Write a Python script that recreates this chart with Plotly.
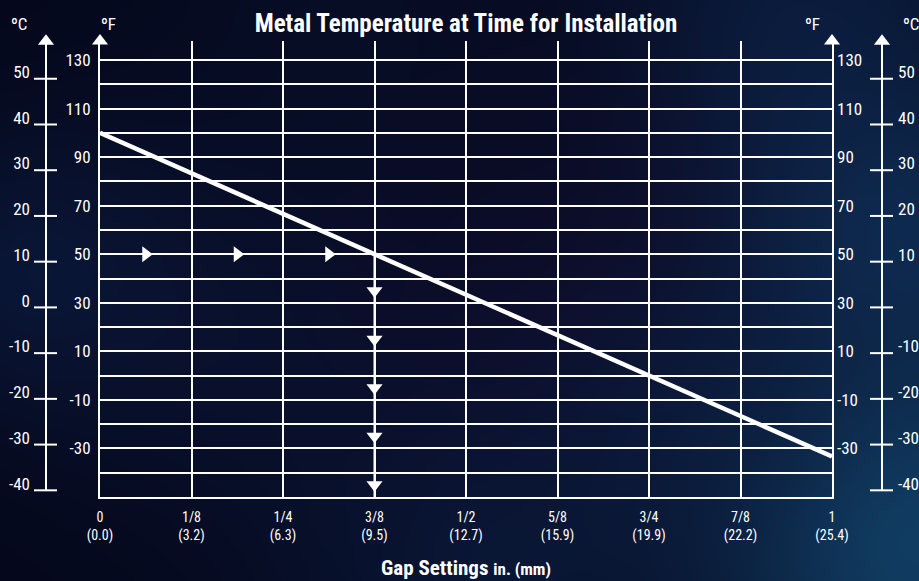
import base64
import struct
import zlib

import numpy as np
import plotly.graph_objects as go

# ---------------- data ----------------
gap_in = [0, 1]                      # gap setting (inches)
temp_f = [100, -33.3]                # metal temperature (°F)

x_tick_vals = [0, 0.125, 0.25, 0.375, 0.5, 0.625, 0.75, 0.875, 1]
x_tick_in = ["0", "1/8", "1/4", "3/8", "1/2", "5/8", "3/4", "7/8", "1"]
x_tick_mm = ["0.0", "3.2", "6.3", "9.5", "12.7", "15.9", "19.9", "22.2", "25.4"]

f_grid = list(range(-50, 131, 10))
f_labels = [130, 110, 90, 70, 50, 30, 10, -10, -30]

c_ticks = [50, 40, 30, 20, 10, 0, -10, -20, -30, -40]
c_labels_left = ["50", "40", "30", "20", "10", "0", "-10", "-20", "-30", "-40"]
c_labels_right = ["50", "40", "30", "20", "10", "", "-10", "-20", "-30", "-40"]

example_x = [1 / 16, 3 / 16, 5 / 16]
example_f = [50, 50, 50]
drop_x = [0.375, 0.375]
drop_f = [50, -50]
drop_arrow_f = [35, 15, -5, -25, -45]

# ---------------- layout constants ----------------
W, H = 919, 581
PX_L, PX_R = 100, 832            # plot area x pixels
PX_BOT = 497                     # y pixel of -50 °F
PX_TOP = 41                      # y pixel of the axis arrow heads
F_MIN = -50
F_PX = 437 / 180                 # pixels per °F
F_MAX = F_MIN + (PX_BOT - PX_TOP) / F_PX
y_dom = [(H - PX_BOT) / H, (H - PX_TOP) / H]
C_PX = 4.573
C0_PX = 307.4
C_MIN = (C0_PX - PX_BOT) / C_PX
C_MAX = (C0_PX - PX_TOP) / C_PX
C_AXIS_L, C_AXIS_R = 46, 882
F_ARROW = F_MAX - 0.05
C_ARROW = C_MAX - 0.03
C_LABEL_SHIFT = 5 / C_PX

FONT = "Liberation Sans Narrow, Arial Narrow, Roboto Condensed, Roboto, sans-serif"
WHITE = "#ffffff"


# ---------------- background image (soft nebula gradient) ----------------
def make_png(arr):
    h, w, _ = arr.shape
    raw = b"".join(b"\x00" + arr[i].tobytes() for i in range(h))

    def chunk(tag, data):
        c = struct.pack(">I", len(data)) + tag + data
        return c + struct.pack(">I", zlib.crc32(tag + data) & 0xFFFFFFFF)

    png = b"\x89PNG\r\n\x1a\n"
    png += chunk(b"IHDR", struct.pack(">IIBBBBB", w, h, 8, 2, 0, 0, 0))
    png += chunk(b"IDAT", zlib.compress(raw, 9))
    png += chunk(b"IEND", b"")
    return "data:image/png;base64," + base64.b64encode(png).decode()


gw, gh = 230, 146
yy, xx = np.mgrid[0:gh, 0:gw].astype(float)
xx *= W / gw
yy *= H / gh
img = np.zeros((gh, gw, 3)) + np.array([5, 8, 28], float)
blobs = [
    (905, 530, 210, (18, 66, 104), 0.95),
    (880, 230, 170, (16, 52, 92), 0.8),
    (800, 30, 190, (14, 40, 80), 0.6),
    (30, 270, 140, (12, 30, 68), 0.6),
    (230, 330, 200, (14, 28, 66), 0.4),
    (560, 300, 220, (20, 12, 46), 0.55),
    (480, 570, 200, (12, 34, 72), 0.5),
    (350, 10, 200, (10, 22, 52), 0.35),
    (700, 420, 160, (12, 34, 70), 0.45),
]
for cx, cy, r, col, s in blobs:
    wgt = s * np.exp(-(((xx - cx) ** 2 + (yy - cy) ** 2) / r ** 2))
    img = img * (1 - wgt[..., None]) + np.array(col, float) * wgt[..., None]
bg_uri = make_png(np.clip(img, 0, 255).astype(np.uint8))

# ---------------- figure ----------------
fig = go.Figure()

# main temperature line
fig.add_trace(go.Scatter(
    x=gap_in, y=temp_f, mode="lines",
    line=dict(color=WHITE, width=4.5), hoverinfo="skip", showlegend=False))

# example arrows along 50 °F
fig.add_trace(go.Scatter(
    x=example_x, y=example_f, mode="markers",
    marker=dict(symbol="triangle-right", size=14, color=WHITE, line_width=0),
    hoverinfo="skip", showlegend=False))

# drop line at 3/8"
fig.add_trace(go.Scatter(
    x=drop_x, y=drop_f, mode="lines",
    line=dict(color=WHITE, width=2), hoverinfo="skip", showlegend=False))
fig.add_trace(go.Scatter(
    x=[drop_x[0]] * len(drop_arrow_f), y=drop_arrow_f, mode="markers",
    marker=dict(symbol="triangle-down", size=14, color=WHITE, line_width=0),
    cliponaxis=False, hoverinfo="skip", showlegend=False))

# °F axis arrows at the top of both borders
fig.add_trace(go.Scatter(
    x=[0, 1], y=[F_ARROW, F_ARROW], mode="markers",
    marker=dict(symbol="triangle-up", size=14, color=WHITE, line_width=0),
    cliponaxis=False, hoverinfo="skip", showlegend=False))

# invisible trace to hold right °F axis
fig.add_trace(go.Scatter(
    x=gap_in, y=temp_f, yaxis="y2", mode="lines",
    line=dict(width=0), opacity=0, hoverinfo="skip", showlegend=False))

# Celsius axes (left and right) on an overlay subplot (x2 = pixel-like x, y3 = °C)
for ax_x, labels, side in [(C_AXIS_L, c_labels_left, "left"),
                           (C_AXIS_R, c_labels_right, "right")]:
    fig.add_trace(go.Scatter(
        x=[ax_x, ax_x], y=[c_ticks[-1], C_MAX], xaxis="x2", yaxis="y3",
        mode="lines", line=dict(color=WHITE, width=2),
        hoverinfo="skip", showlegend=False))
    fig.add_trace(go.Scatter(
        x=[ax_x], y=[C_ARROW], xaxis="x2", yaxis="y3", mode="markers",
        marker=dict(symbol="triangle-up", size=14, color=WHITE, line_width=0),
        cliponaxis=False, hoverinfo="skip", showlegend=False))
    tx, ty = [], []
    for c in c_ticks:
        tx += [ax_x - 12, ax_x + 11, None]
        ty += [c, c, None]
    fig.add_trace(go.Scatter(
        x=tx, y=ty, xaxis="x2", yaxis="y3", mode="lines",
        line=dict(color=WHITE, width=2), hoverinfo="skip", showlegend=False))
    if side == "left":
        lx, pos = [ax_x - 16] * len(c_ticks), "middle left"
    else:
        lx, pos = [ax_x + 16] * len(c_ticks), "middle right"
    fig.add_trace(go.Scatter(
        x=lx, y=[c + C_LABEL_SHIFT for c in c_ticks], xaxis="x2", yaxis="y3",
        mode="text", text=labels, textposition=pos,
        textfont=dict(family=FONT, size=17, color=WHITE),
        cliponaxis=False, hoverinfo="skip", showlegend=False))

fig.update_layout(
    width=W, height=H, autosize=False,
    margin=dict(l=0, r=0, t=0, b=0, pad=0),
    paper_bgcolor="#070b22", plot_bgcolor="rgba(0,0,0,0)",
    font=dict(family=FONT, color=WHITE),
    images=[dict(source=bg_uri, xref="paper", yref="paper", x=0, y=1,
                 sizex=1, sizey=1, sizing="stretch", layer="below",
                 xanchor="left", yanchor="top")],
    title=dict(text="<b>Metal Temperature at Time for Installation</b>",
               x=(466) / W, xanchor="center", y=1 - 23 / H, yanchor="middle",
               font=dict(family=FONT, size=25, color=WHITE)),
    xaxis=dict(
        domain=[PX_L / W, PX_R / W], range=[0, 1], anchor="y",
        tickvals=x_tick_vals,
        ticktext=[f"{a}<br>({b})" for a, b in zip(x_tick_in, x_tick_mm)],
        tickfont=dict(family=FONT, size=14, color=WHITE),
        showgrid=True, gridcolor=WHITE, gridwidth=1.6,
        showline=True, linecolor=WHITE, linewidth=2, mirror=False,
        zeroline=False, ticks="", ticklabelstandoff=6, automargin=False,
        title=dict(text="<b>Gap Settings</b> <b><span style='font-size:17px'>in. (mm)</span></b>",
                   font=dict(family=FONT, size=21, color=WHITE), standoff=17),
        fixedrange=True,
    ),
    yaxis=dict(
        domain=y_dom, range=[F_MIN, F_MAX], anchor="x",
        tickvals=f_grid,
        ticktext=[str(v) if v in f_labels else "" for v in f_grid],
        tickfont=dict(family=FONT, size=17, color=WHITE),
        showgrid=True, gridcolor=WHITE, gridwidth=2,
        showline=True, linecolor=WHITE, linewidth=2, mirror=True,
        zeroline=False, ticks="", ticklabelstandoff=4, fixedrange=True,
        automargin=False,
    ),
    yaxis2=dict(
        overlaying="y", side="right", anchor="x",
        range=[F_MIN, F_MAX], tickvals=f_labels,
        ticktext=[str(v) for v in f_labels],
        tickfont=dict(family=FONT, size=17, color=WHITE),
        showgrid=False, showline=False, zeroline=False, ticks="",
        ticklabelstandoff=4, fixedrange=True, automargin=False,
    ),
    xaxis2=dict(domain=[0, 1], range=[0, W], anchor="y3", visible=False,
                fixedrange=True, automargin=False),
    yaxis3=dict(domain=y_dom, range=[C_MIN, C_MAX], anchor="x2", visible=False,
                fixedrange=True, automargin=False),
    annotations=[
        dict(text=t, x=px / W, y=1 - 24 / H, xref="paper", yref="paper",
             xanchor="center", yanchor="middle", showarrow=False,
             font=dict(family=FONT, size=17, color=WHITE))
        for t, px in [("ºC", 19), ("ºF", 108), ("ºF", 812), ("ºC", 911)]
    ],
)

fig.write_html("out.html", config={"displayModeBar": False},
               post_script="document.body.style.margin='0px';")
